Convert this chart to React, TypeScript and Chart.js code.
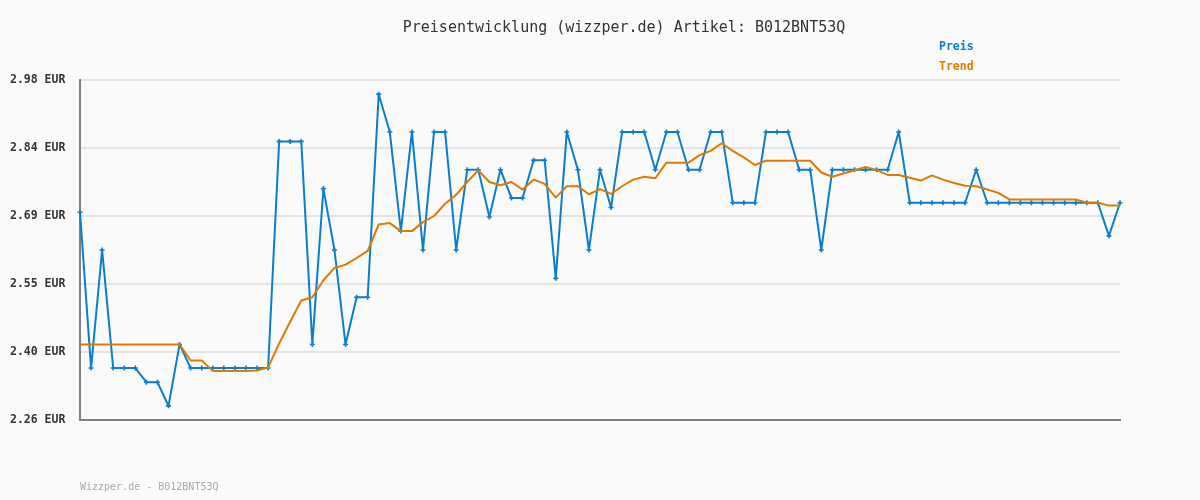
import React, { useEffect, useRef } from "react";
import { Chart, registerables } from "chart.js";

Chart.register(...registerables);

const titleText = "Preisentwicklung (wizzper.de) Artikel: B012BNT53Q";
const footerText = "Wizzper.de - B012BNT53Q";
const seriesNames = ["Preis", "Trend"];

const priceValues = [
  2.70, 2.37, 2.62, 2.37, 2.37, 2.37, 2.34, 2.34, 2.29, 2.42,
  2.37, 2.37, 2.37, 2.37, 2.37, 2.37, 2.37, 2.37, 2.85, 2.85,
  2.85, 2.42, 2.75, 2.62, 2.42, 2.52, 2.52, 2.95, 2.87, 2.66,
  2.87, 2.62, 2.87, 2.87, 2.62, 2.79, 2.79, 2.69, 2.79, 2.73,
  2.73, 2.81, 2.81, 2.56, 2.87, 2.79, 2.62, 2.79, 2.71, 2.87,
  2.87, 2.87, 2.79, 2.87, 2.87, 2.79, 2.79, 2.87, 2.87, 2.72,
  2.72, 2.72, 2.87, 2.87, 2.87, 2.79, 2.79, 2.62, 2.79, 2.79,
  2.79, 2.79, 2.79, 2.79, 2.87, 2.72, 2.72, 2.72, 2.72, 2.72,
  2.72, 2.79, 2.72, 2.72, 2.72, 2.72, 2.72, 2.72, 2.72, 2.72,
  2.72, 2.72, 2.72, 2.65, 2.72,
];

const trendValues = [
  2.42, 2.42, 2.42, 2.42, 2.42, 2.42, 2.42, 2.42, 2.42, 2.42,
  2.386, 2.386, 2.364, 2.364, 2.364, 2.364, 2.365, 2.371, 2.422, 2.468,
  2.513, 2.52, 2.556, 2.582, 2.589, 2.603, 2.618, 2.674, 2.677, 2.66,
  2.66, 2.679, 2.692, 2.718, 2.737, 2.764, 2.789, 2.764, 2.757, 2.764,
  2.748, 2.769, 2.76, 2.731, 2.755, 2.755, 2.738, 2.749, 2.739, 2.755,
  2.769, 2.775, 2.772, 2.805, 2.805, 2.805, 2.821, 2.83, 2.846, 2.83,
  2.816, 2.80, 2.809, 2.809, 2.809, 2.809, 2.809, 2.784, 2.775, 2.782,
  2.789, 2.796, 2.789, 2.779, 2.779, 2.773, 2.767, 2.778, 2.769, 2.762,
  2.756, 2.755, 2.748, 2.741, 2.727, 2.727, 2.727, 2.727, 2.727, 2.727,
  2.727, 2.72, 2.72, 2.714, 2.714,
];

const categories = priceValues.map((_, i) => String(i + 1));

const yTickValues = [2.26, 2.404, 2.548, 2.692, 2.836, 2.98];

const BLUE = "#0b7dcf";
const ORANGE = "#df7a00";
const MONO = "'DejaVu Sans Mono', 'Liberation Mono', monospace";

const textPlugin = {
  id: "texts",
  afterDraw(chart: any) {
    const ctx = chart.ctx;
    ctx.save();
    ctx.textBaseline = "middle";
    ctx.font = `15px ${MONO}`;
    ctx.fillStyle = "#333333";
    ctx.textAlign = "center";
    ctx.fillText(titleText, 624, 28);
    ctx.font = `bold 11.5px ${MONO}`;
    ctx.textAlign = "left";
    ctx.fillStyle = BLUE;
    ctx.fillText(seriesNames[0], 939, 47);
    ctx.fillStyle = ORANGE;
    ctx.fillText(seriesNames[1], 939, 67);
    ctx.font = `10px ${MONO}`;
    ctx.fillStyle = "#aaaaaa";
    ctx.fillText(footerText, 80, 487);
    ctx.restore();
  },
};

export default function App() {
  const ref = useRef<HTMLCanvasElement | null>(null);

  useEffect(() => {
    document.body.style.margin = "0";
    document.body.style.background = "#fafafa";
    const canvas = ref.current;
    if (!canvas) return;
    const chart = new Chart(canvas, {
      type: "line",
      data: {
        labels: categories,
        datasets: [
          {
            label: seriesNames[0],
            data: priceValues,
            borderColor: BLUE,
            backgroundColor: BLUE,
            borderWidth: 2,
            borderJoinStyle: "round",
            pointStyle: "cross",
            pointRadius: 2.5,
            pointBorderWidth: 1.6,
            pointBorderColor: BLUE,
            tension: 0,
            order: 1,
          },
          {
            label: seriesNames[1],
            data: trendValues,
            borderColor: ORANGE,
            backgroundColor: ORANGE,
            borderWidth: 2,
            borderJoinStyle: "round",
            pointRadius: 0,
            tension: 0,
            order: 0,
          },
        ],
      },
      options: {
        animation: false,
        responsive: false,
        devicePixelRatio: 1,
        layout: { padding: { top: 80, left: 10, right: 80, bottom: 80 } },
        plugins: {
          legend: { display: false },
          title: { display: false },
          tooltip: { enabled: false },
        },
        scales: {
          x: {
            type: "category",
            offset: false,
            ticks: { display: false },
            grid: { display: false, drawTicks: false },
            border: { display: true, color: "#808080", width: 2 },
            afterFit: (s: any) => {
              s.height = 0;
            },
          },
          y: {
            min: 2.26,
            max: 2.98,
            afterBuildTicks: (s: any) => {
              s.ticks = yTickValues.map((v) => ({ value: v }));
            },
            ticks: {
              crossAlign: "far",
              padding: 0,
              color: "#333333",
              font: { family: MONO, size: 11.5, weight: "bold" },
              callback: (v: any) => Number(v).toFixed(2) + " EUR",
            },
            grid: { color: "#e4e4e4", lineWidth: 2, drawTicks: false },
            border: { display: true, color: "#808080", width: 2 },
            afterFit: (s: any) => {
              s.width = 70;
            },
          },
        },
      },
      plugins: [textPlugin],
    } as any);
    return () => chart.destroy();
  }, []);

  return (
    <div style={{ width: 1200, height: 500, background: "#fafafa" }}>
      <canvas ref={ref} width={1200} height={500} style={{ display: "block" }} />
    </div>
  );
}
